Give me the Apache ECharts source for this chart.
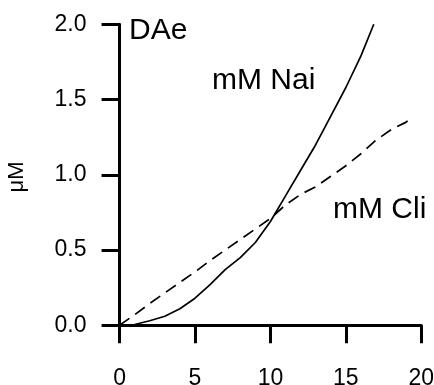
<!DOCTYPE html>
<html>
<head>
<meta charset="utf-8">
<script src="https://cdn.jsdelivr.net/npm/echarts@6/dist/echarts.min.js"></script>
<style>
  html, body { margin: 0; padding: 0; background: #fff; }
  #chart { width: 434px; height: 385px; }
</style>
</head>
<body>
<div id="chart"></div>
<script>
// Tick positions on both axes
const xTicks = [0, 5, 10, 15, 20];
const yTicks = [0, 0.5, 1.0, 1.5, 2.0];

// Na curve (solid)
const naX = [0, 1, 2, 3, 4, 5, 6, 7, 8, 9, 10, 11, 12, 13, 14, 15, 16, 16.85];
const naY = [0, 0.005, 0.03, 0.06, 0.11, 0.18, 0.27, 0.37, 0.45, 0.55, 0.69, 0.86, 1.03, 1.20, 1.39, 1.58, 1.79, 2.0];

// Cl curve (dashed)
const clX = [0, 1, 2, 3, 4, 5, 6, 7, 8, 9, 10, 11, 12, 13, 14, 15, 16, 17, 18, 19, 19.2];
const clY = [0, 0.07, 0.145, 0.215, 0.285, 0.355, 0.43, 0.50, 0.57, 0.64, 0.71, 0.80, 0.87, 0.92, 0.99, 1.06, 1.14, 1.23, 1.30, 1.35, 1.37];

const FONT = 'Liberation Sans, Arial, Helvetica, sans-serif';
const pairs = (xs, ys) => xs.map((x, i) => [x, ys[i]]);

const chart = echarts.init(document.getElementById('chart'), null, { renderer: 'canvas' });

chart.setOption({
  animation: false,
  backgroundColor: '#fff',
  grid: {
    left: 115.5, right: 12.7, top: 24.3, bottom: 55.5,
    containLabel: false,
    outerBoundsMode: 'none'
  },
  xAxis: {
    type: 'value',
    min: -0.27,
    max: 20,
    axisLine: { show: true, lineStyle: { color: '#000', width: 3 } },
    axisTick: { show: true, length: 18, customValues: xTicks, lineStyle: { color: '#000', width: 3 } },
    axisLabel: { customValues: xTicks, margin: 38, color: '#000', fontSize: 23, fontFamily: FONT },
    splitLine: { show: false }
  },
  yAxis: {
    type: 'value',
    min: -0.028,
    max: 2.0,
    name: 'μM',
    nameLocation: 'middle',
    nameGap: 88,
    nameRotate: 90,
    nameTextStyle: { color: '#000', fontSize: 22, fontFamily: FONT },
    axisLine: { show: true, lineStyle: { color: '#000', width: 3 } },
    axisTick: { show: true, length: 18, customValues: yTicks, lineStyle: { color: '#000', width: 3 } },
    axisLabel: {
      customValues: yTicks, margin: 29, color: '#000', fontSize: 23, fontFamily: FONT,
      formatter: v => v.toFixed(1)
    },
    splitLine: { show: false }
  },
  series: [
    {
      name: 'mM Nai',
      type: 'line',
      data: pairs(naX, naY),
      showSymbol: false,
      lineStyle: { color: '#000', width: 1.7 }
    },
    {
      name: 'mM Cli',
      type: 'line',
      data: pairs(clX, clY),
      showSymbol: false,
      lineStyle: { color: '#000', width: 1.7, type: [12, 7] }
    }
  ],
  graphic: [
    { type: 'text', left: 129, top: 16, style: { text: 'DAe', fontSize: 30, fontFamily: FONT, fill: '#000' } },
    { type: 'text', left: 212, top: 66, style: { text: 'mM Nai', fontSize: 30, fontFamily: FONT, fill: '#000' } },
    { type: 'text', left: 333, top: 195, style: { text: 'mM Cli', fontSize: 30, fontFamily: FONT, fill: '#000' } }
  ]
});
</script>
</body>
</html>
